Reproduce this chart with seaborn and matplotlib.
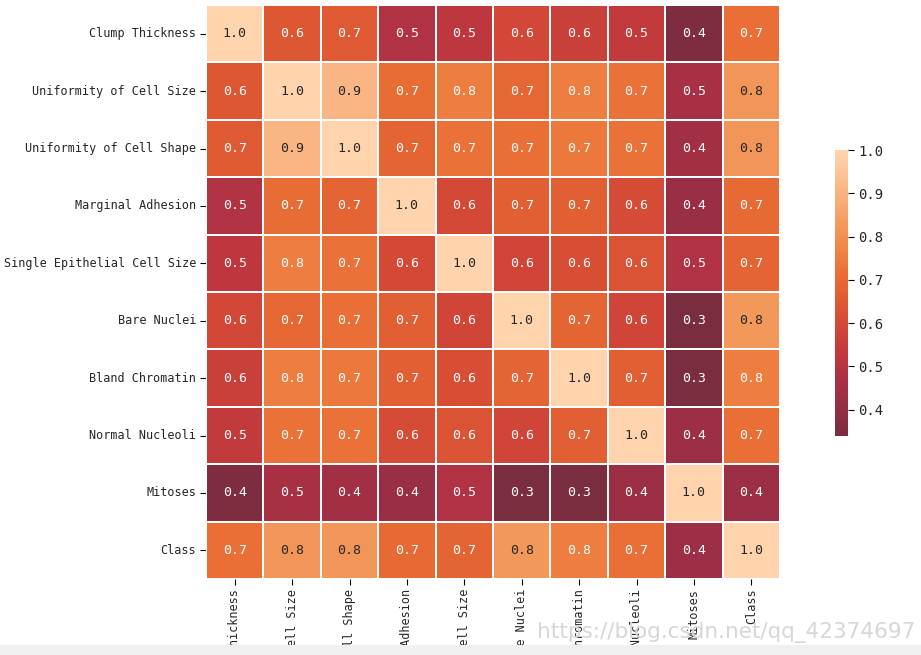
import numpy as np
import pandas as pd
import matplotlib
matplotlib.use("Agg")
import matplotlib.pyplot as plt
import seaborn as sns

labels = ["Clump Thickness", "Uniformity of Cell Size", "Uniformity of Cell Shape",
          "Marginal Adhesion", "Single Epithelial Cell Size", "Bare Nuclei",
          "Bland Chromatin", "Normal Nucleoli", "Mitoses", "Class"]

clump = [1.000, 0.645, 0.655, 0.486, 0.522, 0.593, 0.558, 0.536, 0.351, 0.716]
cell_size = [0.645, 1.000, 0.907, 0.707, 0.752, 0.692, 0.756, 0.723, 0.459, 0.818]
cell_shape = [0.655, 0.907, 1.000, 0.683, 0.720, 0.714, 0.736, 0.719, 0.439, 0.819]
marginal = [0.486, 0.707, 0.683, 1.000, 0.600, 0.671, 0.667, 0.603, 0.418, 0.697]
single_epi = [0.522, 0.752, 0.720, 0.600, 1.000, 0.586, 0.616, 0.629, 0.479, 0.683]
bare_nuclei = [0.593, 0.692, 0.714, 0.671, 0.586, 1.000, 0.681, 0.584, 0.339, 0.823]
bland = [0.558, 0.756, 0.736, 0.667, 0.616, 0.681, 1.000, 0.666, 0.344, 0.756]
normal = [0.536, 0.723, 0.719, 0.603, 0.629, 0.584, 0.666, 1.000, 0.428, 0.712]
mitoses = [0.351, 0.459, 0.439, 0.418, 0.479, 0.339, 0.344, 0.428, 1.000, 0.423]
class_ = [0.716, 0.818, 0.819, 0.697, 0.683, 0.823, 0.756, 0.712, 0.423, 1.000]

corr = pd.DataFrame([clump, cell_size, cell_shape, marginal, single_epi,
                     bare_nuclei, bland, normal, mitoses, class_],
                    index=labels, columns=labels)

sns.set_theme(style="white")
plt.rcParams['font.family'] = ['DejaVu Sans Mono']

W, H = 921, 655
fig = plt.figure(figsize=(W / 100, H / 100), dpi=100)
ax = fig.add_axes([206 / W, (H - 579) / H, 574 / W, 574 / H])
cax = fig.add_axes([835 / W, (H - 436) / H, 13 / W, 286 / H])

sns.heatmap(corr, ax=ax, cbar_ax=cax, annot=True, fmt=".1f", center=0,
            linewidths=1.2, linecolor="white", square=False,
            annot_kws={"fontsize": 9.5})

ax.tick_params(axis="both", which="both", length=4, width=0.8, color="black",
               labelsize=8.5, pad=3, left=True, bottom=True)
ax.set_xticklabels(labels, rotation=90)
ax.set_yticklabels(labels, rotation=0)
cax.tick_params(labelsize=10, length=4, width=0.8, color="black", right=True)

fig.patches.append(plt.Rectangle((0, 0), 1, 10 / H, transform=fig.transFigure,
                                 facecolor="#f0f0f0", edgecolor="none", zorder=5))
fig.text(915 / W, 12 / H, "https://blog.csdn.net/qq_42374697", ha="right", va="bottom",
         fontsize=15.5, color="#d6d6d6", family="DejaVu Sans", zorder=6)

fig.savefig("out.png", dpi=100)
